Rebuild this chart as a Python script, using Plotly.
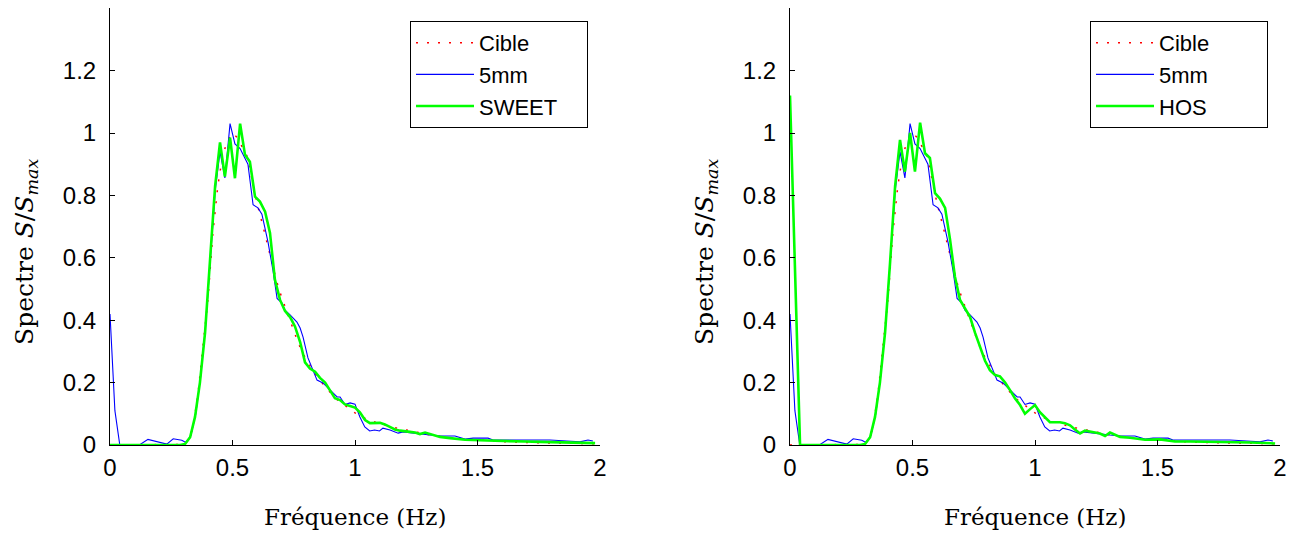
import plotly.graph_objects as go

# ---------------- data ----------------
# Target spectrum (Cible)
f_cible = [0.0, 0.10, 0.20, 0.28, 0.30, 0.32, 0.34, 0.36, 0.38, 0.40, 0.42, 0.44, 0.46, 0.48,
           0.50, 0.52, 0.54, 0.56, 0.58, 0.60, 0.62, 0.64, 0.66, 0.68, 0.70, 0.72, 0.74,
           0.76, 0.78, 0.80, 0.84, 0.88, 0.92, 0.96, 1.00, 1.04, 1.10, 1.16, 1.24, 1.32,
           1.40, 1.50, 1.60, 1.70, 1.80, 1.90, 1.98]
s_cible = [0.0, 0.0, 0.0, 0.0, 0.002, 0.015, 0.06, 0.17, 0.31, 0.47, 0.68, 0.83, 0.93, 0.975,
           1.0, 0.985, 0.955, 0.925, 0.85, 0.775, 0.715, 0.65, 0.58, 0.525, 0.475, 0.43, 0.385,
           0.345, 0.305, 0.275, 0.225, 0.185, 0.15, 0.125, 0.103, 0.086, 0.068, 0.056, 0.042, 0.030,
           0.022, 0.016, 0.011, 0.008, 0.006, 0.005, 0.004]

# Measured spectrum (5mm)
f_5mm = [0.0, 0.02, 0.04, 0.12, 0.155, 0.196, 0.232, 0.258, 0.293, 0.31, 0.33, 0.35, 0.37,
         0.39, 0.41, 0.43, 0.449, 0.469, 0.49, 0.51, 0.531, 0.551, 0.563, 0.584, 0.604, 0.62,
         0.645, 0.665, 0.682, 0.702, 0.714, 0.735, 0.763, 0.776, 0.788, 0.808, 0.845, 0.869,
         0.898, 0.927, 0.939, 0.959, 0.98, 1.0, 1.02, 1.04, 1.06, 1.08, 1.10, 1.114, 1.143,
         1.176, 1.196, 1.253, 1.306, 1.347, 1.408, 1.449, 1.482, 1.543, 1.563, 1.645, 1.727,
         1.796, 1.865, 1.918, 1.951, 1.971]
s_5mm = [0.42, 0.11, 0.0, 0.0, 0.018, 0.01, 0.003, 0.02, 0.015, 0.008, 0.03, 0.10, 0.22,
         0.38, 0.60, 0.82, 0.94, 0.856, 1.03, 0.965, 0.95, 0.92, 0.90, 0.77, 0.76, 0.74,
         0.65, 0.56, 0.47, 0.455, 0.432, 0.417, 0.394, 0.375, 0.346, 0.279, 0.208, 0.199,
         0.176, 0.154, 0.154, 0.13, 0.135, 0.131, 0.09, 0.058, 0.045, 0.048, 0.045, 0.054, 0.048,
         0.038, 0.042, 0.038, 0.032, 0.029, 0.029, 0.019, 0.022, 0.022, 0.016, 0.016, 0.016,
         0.016, 0.013, 0.010, 0.016, 0.013]

# Numerical spectra (SWEET, HOS)
f_num = [0.0, 0.020, 0.041, 0.286, 0.306, 0.327, 0.347, 0.367, 0.388, 0.408, 0.429, 0.449,
         0.469, 0.490, 0.510, 0.531, 0.551, 0.571, 0.592, 0.612, 0.633, 0.653, 0.673, 0.694,
         0.714, 0.735, 0.755, 0.776, 0.796, 0.816, 0.837, 0.857, 0.878, 0.898, 0.918, 0.939,
         0.959, 0.980, 1.000, 1.020, 1.041, 1.061, 1.082, 1.102, 1.122, 1.143, 1.163, 1.184,
         1.204, 1.224, 1.245, 1.265, 1.286, 1.306, 1.327, 1.347, 1.388, 1.449, 1.510, 1.571,
         1.633, 1.694, 1.755, 1.816, 1.878, 1.939, 1.980]
s_sweet = [0.0, 0.0, 0.0, 0.0, 0.003, 0.025, 0.09, 0.20, 0.36, 0.58, 0.83, 0.97,
           0.86, 0.985, 0.855, 1.03, 0.93, 0.908, 0.796, 0.78, 0.748, 0.68, 0.53, 0.465,
           0.43, 0.41, 0.38, 0.33, 0.265, 0.245, 0.235, 0.215, 0.20, 0.175, 0.15, 0.144,
           0.13, 0.125, 0.12, 0.105, 0.08, 0.07, 0.071, 0.071, 0.066, 0.058, 0.05, 0.046,
           0.043, 0.042, 0.04, 0.035, 0.04, 0.036, 0.03, 0.026, 0.022, 0.017, 0.015, 0.013,
           0.012, 0.011, 0.010, 0.009, 0.008, 0.007, 0.006]
s_hos = [1.12, 0.55, 0.0, 0.0, 0.003, 0.025, 0.09, 0.20, 0.36, 0.58, 0.83, 0.978,
         0.876, 1.0, 0.876, 1.033, 0.935, 0.92, 0.807, 0.79, 0.76, 0.66, 0.54, 0.465,
         0.44, 0.41, 0.36, 0.31, 0.27, 0.24, 0.224, 0.22, 0.20, 0.176, 0.15, 0.128,
         0.10, 0.115, 0.128, 0.105, 0.088, 0.073, 0.073, 0.073, 0.07, 0.063, 0.05, 0.037,
         0.046, 0.042, 0.04, 0.037, 0.029, 0.04, 0.032, 0.026, 0.023, 0.017, 0.018, 0.011,
         0.011, 0.011, 0.011, 0.009, 0.008, 0.006, 0.005]

x_ticks = [0, 0.5, 1, 1.5, 2]
x_ticklabels = ["0", "0.5", "1", "1.5", "2"]
y_ticks = [0, 0.2, 0.4, 0.6, 0.8, 1.0, 1.2]
y_ticklabels = ["0", "0.2", "0.4", "0.6", "0.8", "1", "1.2"]

# ---------------- figure ----------------
W, H = 1295, 535
RED, BLUE, GREEN = "rgb(255,0,0)", "rgb(0,0,255)", "rgb(0,255,0)"
NB = "\u00a0"
fig = go.Figure()

# (legend padding keeps both legend boxes at the reference's fixed width)
panels = [("x", "y", "legend", "SWEET", s_sweet, 4), ("x2", "y2", "legend2", "HOS", s_hos, 9)]
for xa, ya, lg, name, s_num, pad in panels:
    fig.add_trace(go.Scatter(x=f_cible, y=s_cible, mode="lines", name="Cible",
                             line=dict(color=RED, width=1.5, dash="2px,9px"),
                             xaxis=xa, yaxis=ya, legend=lg))
    fig.add_trace(go.Scatter(x=f_5mm, y=s_5mm, mode="lines", name="5mm",
                             line=dict(color=BLUE, width=1.1),
                             xaxis=xa, yaxis=ya, legend=lg))
    fig.add_trace(go.Scatter(x=f_num, y=s_num, mode="lines", name=name + NB * pad,
                             line=dict(color=GREEN, width=2.6),
                             xaxis=xa, yaxis=ya, legend=lg))

tick_font = dict(family="Liberation Sans, Arial", size=24, color="black")
y0 = (H - 445) / H
y1 = (H - (445 - 1.4 * 312)) / H
xdoms = [[110 / W, 600 / W], [790 / W, 1280 / W]]

axcommon = dict(showline=True, linecolor="black", linewidth=1, ticks="inside",
                ticklen=5, tickcolor="black", showgrid=False, zeroline=False,
                tickfont=tick_font, mirror=False, automargin=False)
fig.update_layout(
    xaxis=dict(domain=xdoms[0], range=[0, 2], tickvals=x_ticks, ticktext=x_ticklabels,
               anchor="y", ticklabelstandoff=1, **axcommon),
    yaxis=dict(domain=[y0, y1], range=[0, 1.4], tickvals=y_ticks, ticktext=y_ticklabels,
               anchor="x", ticklabelstandoff=8, **axcommon),
    xaxis2=dict(domain=xdoms[1], range=[0, 2], tickvals=x_ticks, ticktext=x_ticklabels,
                anchor="y2", ticklabelstandoff=1, **axcommon),
    yaxis2=dict(domain=[y0, y1], range=[0, 1.4], tickvals=y_ticks, ticktext=y_ticklabels,
                anchor="x2", ticklabelstandoff=8, **axcommon),
)

leg_common = dict(bgcolor="white", bordercolor="black", borderwidth=1,
                  font=dict(family="Liberation Sans, Arial", size=22, color="black"),
                  xanchor="right", yanchor="top", tracegroupgap=0, itemwidth=58)
fig.update_layout(
    legend=dict(x=588 / W, y=(H - 21) / H, **leg_common),
    legend2=dict(x=1268 / W, y=(H - 21) / H, **leg_common),
)

xlab_font = dict(family="DejaVu Serif, serif", size=23, color="black")
ylab_font = dict(family="DejaVu Serif, serif", size=25, color="black")
ylab = "Spectre <i>S</i>/<i>S</i><sub><i>max</i></sub>"
for xd in xdoms:
    xc = (xd[0] + xd[1]) / 2
    fig.add_annotation(text="Fréquence (Hz)", x=xc, y=(H - 517) / H, xref="paper", yref="paper",
                       showarrow=False, font=xlab_font, xanchor="center", yanchor="middle")
    fig.add_annotation(text=ylab, x=xd[0] - 84 / W, y=(H - 252) / H, xref="paper", yref="paper",
                       showarrow=False, font=ylab_font, textangle=-90,
                       xanchor="center", yanchor="middle")

fig.update_layout(width=W, height=H, margin=dict(l=0, r=0, t=0, b=0),
                  paper_bgcolor="white", plot_bgcolor="white", showlegend=True)

fig.write_html("out.html", config={"displayModeBar": False},
               post_script="document.body.style.margin='0px';document.body.style.overflow='hidden';")
